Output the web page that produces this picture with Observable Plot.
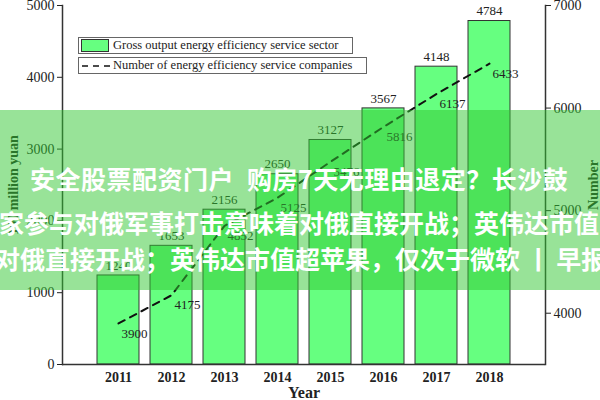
<!DOCTYPE html>
<html><head><meta charset="utf-8">
<script src="https://cdn.jsdelivr.net/npm/d3@7"></script>
<script src="https://cdn.jsdelivr.net/npm/@observablehq/plot@0.6"></script>
<style>
body{margin:0;background:#fff;}
#wrap{position:relative;width:600px;height:400px;overflow:hidden;}
.lg{position:absolute;font-family:"Liberation Serif","Times New Roman",serif;font-size:12.5px;color:#222;box-sizing:border-box;border:1px solid #666;background:#fff;}
.lg span{position:absolute;left:34px;top:0;line-height:15px;white-space:nowrap;}
.band{position:absolute;left:0;top:110px;width:600px;height:180px;background:rgba(49,200,49,0.5);}
.ol{position:absolute;color:#fff;font-family:"Noto Sans CJK SC",sans-serif;font-weight:bold;font-size:25px;line-height:25px;white-space:nowrap;}
</style></head><body><div id="wrap"></div>
<script>
const years = ["2011","2012","2013","2014","2015","2016","2017","2018"];
const grossOutput = [1240,1653,2156,2650,3127,3567,4148,4784];
const companies = [3900,4175,4852,5125,5476,5816,6137,6433];
const leftTicks = [0,1000,2000,3000,4000,5000];
const rightTicks = [4000,5000,6000,7000];
const leftDomain = [0,5000];
const rightDomain = [3500,7000];
const leftTitle = "100 million yuan";
const rightTitle = "Number";
const xTitle = "Year";
const legendLabels = ["Gross output energy efficiency service sector","Number of energy efficiency service companies"];
const overlayLines = ["安全股票配资门户\u2002购房7天无理由退定？长沙鼓","家参与对俄军事打击意味着对俄直接开战；英伟达市值","对俄直接开战；英伟达市值超苹果，仅次于微软 丨 早报"];

const toLeft = d3.scaleLinear(rightDomain, leftDomain);
const data = years.map((y,i)=>({year:y, gross:grossOutput[i], comp:companies[i], compL:toLeft(companies[i])}));
const serif = '"Liberation Serif","Times New Roman",serif';

const chart = Plot.plot({
  width:600, height:400,
  marginLeft:62, marginRight:55, marginTop:5, marginBottom:36,
  style:{fontFamily:serif, fontSize:"14px", color:"#222", background:"transparent"},
  x:{domain:years, paddingInner:0.2, paddingOuter:0.614, label:null},
  y:{domain:leftDomain, label:null},
  marks:[
    Plot.barY(data,{x:"year",y:"gross",fill:"#66ff80",stroke:"#333",strokeWidth:1}),
    Plot.text(data,{x:"year",y:"gross",text:d=>String(d.gross),dy:-10,fontSize:13,fill:"#222"}),
    Plot.line(data,{x:"year",y:"compL",stroke:"#111",strokeWidth:2,strokeDasharray:"7,6"}),
    Plot.text(data,{x:"year",y:"compL",text:d=>String(d.comp),dx:3,dy:10,textAnchor:"start",fontSize:13,fill:"#222"}),
    Plot.frame({anchor:"left",stroke:"#333",strokeWidth:1.5}),
    Plot.frame({anchor:"right",stroke:"#333",strokeWidth:1.5}),
    Plot.ruleY([0],{stroke:"#333",strokeWidth:1.5}),
    Plot.axisY({ticks:leftTicks,tickFormat:d=>String(d),tickSize:5,tickPadding:3,label:leftTitle,labelAnchor:"center",labelArrow:"none",labelOffset:54,fontSize:14}),
    Plot.axisY({anchor:"right",ticks:rightTicks.map(v=>toLeft(v)),tickFormat:d=>String(Math.round(toLeft.invert(d))),tickSize:5,tickPadding:3,label:rightTitle,labelAnchor:"center",labelArrow:"none",labelOffset:52,fontSize:14}),
    Plot.axisX({tickSize:0,tickPadding:8,fontWeight:"bold",fontSize:14,label:xTitle,labelAnchor:"center",labelArrow:"none",labelOffset:33})
  ]
});
const labels = d3.select(chart).selectAll('g[aria-label$="axis label"]').attr("font-weight","bold").attr("fill","#222");
labels.selectAll("text").each(function(){ this.textContent = this.textContent.replace(/[\u2190-\u2193]/g,"").trim(); });
d3.select(chart).selectAll('g[aria-label="x-axis label"]').attr("font-size","16");
const wrap = document.getElementById("wrap");
wrap.appendChild(chart);

// legend
const lg1 = document.createElement("div");
lg1.className="lg"; Object.assign(lg1.style,{left:"78px",top:"37px",width:"275px",height:"17px"});
lg1.innerHTML = '<div style="position:absolute;left:2px;top:1px;width:28px;height:13px;box-sizing:border-box;background:#66ff80;border:1px solid #333"></div>';
const s1=document.createElement("span"); s1.textContent=legendLabels[0]; lg1.appendChild(s1);
wrap.appendChild(lg1);
const lg2 = document.createElement("div");
lg2.className="lg"; Object.assign(lg2.style,{left:"78px",top:"57px",width:"289px",height:"17px"});
lg2.innerHTML = '<svg width="30" height="15" style="position:absolute;left:2px;top:0"><line x1="1" x2="29" y1="8" y2="8" stroke="#111" stroke-width="1.5" stroke-dasharray="6,5"/></svg>';
const s2=document.createElement("span"); s2.textContent=legendLabels[1]; lg2.appendChild(s2);
wrap.appendChild(lg2);

// overlay band
const band=document.createElement("div"); band.className="band"; wrap.appendChild(band);
const pos=[[30,165.5],[-1,209.5],[-5,245.5]];
overlayLines.forEach((t,i)=>{const d=document.createElement("div");d.className="ol";d.textContent=t;d.style.left=pos[i][0]+"px";d.style.top=pos[i][1]+"px";if(i===0)d.style.letterSpacing="0.5px";wrap.appendChild(d);});
</script></body></html>
